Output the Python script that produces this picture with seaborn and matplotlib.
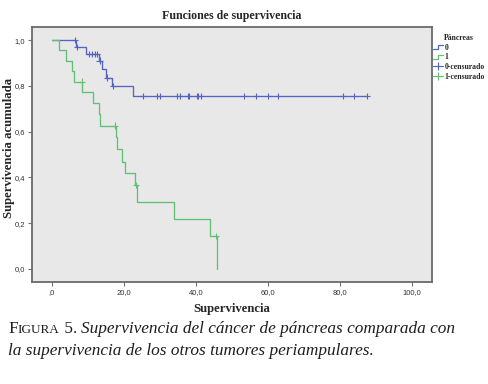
import numpy as np
import pandas as pd
import matplotlib
matplotlib.use("Agg")
import matplotlib.pyplot as plt
import seaborn as sns
from matplotlib.legend_handler import HandlerBase
from matplotlib.lines import Line2D

# ---------------- data ----------------
groups = ["0", "1"]
# group 0 (other periampullary tumours): step times / survival levels
t0 = [0.0, 6.7, 9.4, 13.1, 13.8, 14.9, 16.6, 22.4, 87.4]
s0 = [1.000, 0.969, 0.939, 0.910, 0.872, 0.836, 0.799, 0.755, 0.755]
# group 1 (pancreas)
t1 = [0.0, 1.9, 3.9, 5.6, 6.1, 8.5, 11.5, 13.1, 13.5, 17.8, 18.1, 19.4, 20.3,
      23.1, 23.6, 34.0, 44.0, 45.8]
s1 = [1.000, 0.955, 0.908, 0.866, 0.818, 0.771, 0.725, 0.677, 0.626, 0.575,
      0.523, 0.469, 0.418, 0.367, 0.291, 0.218, 0.145, 0.000]
# censored observations
c0_t = [6.3, 7.0, 10.4, 11.1, 11.9, 12.4, 13.3, 15.4, 17.0, 25.4, 29.2, 30.0,
        34.8, 35.6, 37.7, 38.1, 40.2, 40.6, 41.3, 53.3, 56.7, 60.1, 62.8,
        80.7, 83.9, 87.4]
c0_s = [1.000, 0.969, 0.939, 0.939, 0.939, 0.939, 0.910, 0.836, 0.799] + [0.755] * 17
c1_t = [8.25, 17.5, 23.3, 45.6]
c1_s = [0.818, 0.626, 0.367, 0.145]

xticks = [0, 20, 40, 60, 80, 100]
xtick_labels = [",0", "20,0", "40,0", "60,0", "80,0", "100,0"]
yticks = [0.0, 0.2, 0.4, 0.6, 0.8, 1.0]
ytick_labels = ["0,0", "0,2", "0,4", "0,6", "0,8", "1,0"]
legend_labels = ["0", "1", "0-censurado", "1-censurado"]

colors = {"0": "#5364c2", "1": "#62c076"}

curves = pd.DataFrame({
    "group": ["0"] * len(t0) + ["1"] * len(t1),
    "time": t0 + t1,
    "surv": s0 + s1,
})
cens = pd.DataFrame({
    "group": ["0"] * len(c0_t) + ["1"] * len(c1_t),
    "time": c0_t + c1_t,
    "surv": c0_s + c1_s,
})

# ---------------- figure ----------------
sns.set_style("white")
plt.rcParams["font.family"] = ["Liberation Serif", "DejaVu Serif"]

fig = plt.figure(figsize=(4.89, 3.84), dpi=100)
ax = fig.add_axes([32 / 489, 1 - 282 / 384, 400 / 489, 255 / 384])
ax.set_facecolor("#e8e8e8")

for g in groups:
    sub = curves[curves["group"] == g]
    sns.lineplot(x=sub["time"].to_numpy(), y=sub["surv"].to_numpy(),
                 color=colors[g], drawstyle="steps-post", estimator=None,
                 sort=False, linewidth=0.95, ax=ax)
sns.scatterplot(data=cens, x="time", y="surv", hue="group", palette=colors,
                marker="+", s=22, linewidth=0.8, legend=False, ax=ax, zorder=3)

ax.set_xlim(-5.5, 105.5)
ax.set_ylim(-0.057, 1.057)
ax.set_xticks(xticks)
ax.set_xticklabels(xtick_labels, family="Liberation Sans", fontsize=5.5)
ax.set_yticks(yticks)
ax.set_yticklabels(ytick_labels, family="Liberation Sans", fontsize=5.5)
ax.tick_params(axis="both", direction="out", length=3, width=0.8,
               color="#707070", labelcolor="#333333", pad=2,
               bottom=True, left=True)
for sp in ax.spines.values():
    sp.set_color("#6a6a6a")
    sp.set_linewidth(1.3)

ax.set_xlabel("Supervivencia", fontsize=9.2, fontweight="bold", labelpad=5)
ax.set_ylabel("Supervivencia acumulada", fontsize=9.2, fontweight="bold")
ax.yaxis.set_label_coords(-0.042, 0.525)
ax.set_title("Funciones de supervivencia", fontsize=8.6, fontweight="bold", pad=6)


# legend with step-shaped handles for the curves
class StepHandler(HandlerBase):
    def create_artists(self, legend, orig_handle, xdescent, ydescent,
                       width, height, fontsize, trans):
        x0 = -xdescent
        y0 = -ydescent
        xs = [x0, x0 + 0.45 * width, x0 + 0.45 * width, x0 + width]
        ys = [y0 + 0.05 * height, y0 + 0.05 * height, y0 + 0.85 * height, y0 + 0.85 * height]
        ln = Line2D(xs, ys, color=orig_handle.get_color(), lw=0.9, transform=trans)
        return [ln]


h_step0 = Line2D([], [], color=colors["0"])
h_step1 = Line2D([], [], color=colors["1"])
h_c0 = Line2D([], [], color=colors["0"], marker="+", markersize=6, lw=0.8, mew=0.8)
h_c1 = Line2D([], [], color=colors["1"], marker="+", markersize=6, lw=0.8, mew=0.8)
leg = fig.legend([h_step0, h_step1, h_c0, h_c1], legend_labels,
                 title="Páncreas", loc="upper left",
                 bbox_to_anchor=(433 / 489, 1 - 34 / 384),
                 frameon=False, handlelength=1.3, handletextpad=0.15,
                 labelspacing=0.22, borderpad=0, borderaxespad=0,
                 prop={"size": 5.6, "weight": "bold"},
                 handler_map={h_step0: StepHandler(), h_step1: StepHandler()})
leg.get_title().set_fontsize(5.6)
leg.get_title().set_fontweight("bold")

# ---------------- caption ----------------
cap_size = 12.4
sc_size = 9.5
off = 0.21 * (cap_size - sc_size)
fF = fig.text(8 / 489, 1 - 333 / 384, "F", fontsize=cap_size, va="baseline",
              color="#1e1e1e")
a1 = ax.annotate("IGURA", xy=(1, 0), xycoords=fF,
                 xytext=(0, off), textcoords="offset points",
                 fontsize=sc_size, va="bottom", ha="left", color="#1e1e1e",
                 annotation_clip=False)
a1b = ax.annotate(" 5. ", xy=(1, 0), xycoords=a1,
                  xytext=(0, -off), textcoords="offset points",
                  fontsize=cap_size, va="bottom", ha="left", color="#1e1e1e",
                  annotation_clip=False)
a2 = ax.annotate("Supervivencia del cáncer de páncreas comparada con", xy=(1, 0),
                 xycoords=a1b, fontsize=cap_size, style="italic",
                 va="bottom", ha="left", color="#1e1e1e", annotation_clip=False)
fig.text(8 / 489, 1 - 355 / 384,
         "la supervivencia de los otros tumores periampulares.",
         fontsize=cap_size, style="italic", va="baseline", color="#1e1e1e")

fig.savefig("out.png", dpi=100)
